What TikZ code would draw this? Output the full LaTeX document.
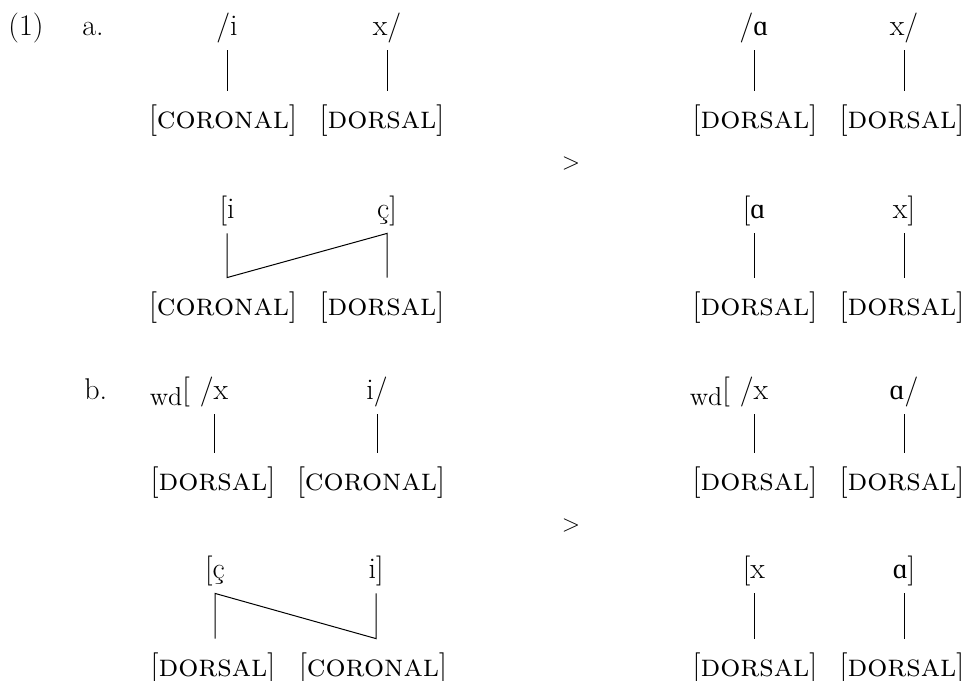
\documentclass[tikz,border=0pt]{standalone}
\usepackage{fontspec}
\newfontfamily\ipa{Liberation Serif}[Scale=0.95]
\newcommand{\wdmark}{\llap{\raisebox{-0.5ex}{\fontsize{13}{15}\selectfont wd}[\,\,}}
\begin{document}
\begin{tikzpicture}[x=0.5pt,y=-0.5pt,
  every node/.style={font=\fontsize{15}{18}\selectfont, inner sep=0pt},
  plain/.style={anchor=base west},
  seg/.style={anchor=base, text depth=7.5pt},
  feat/.style={anchor=base, text height=18.5pt, font=\fontsize{15.8}{18}\selectfont},
  gt/.style={font=\fontsize{12}{14}\selectfont},
  assoc/.style={line width=0.5pt}]
\useasboundingbox (0,0) rectangle (969,680);
% labels
\node[plain] (ex) at (8,35) {(1)};
\node[plain] (la) at (82,35) {a.};
\node[plain] (lb) at (84,399) {b.};
% a, underlying
\node[seg] (a1i) at (227,35) {/i};
\node[seg] (a1x) at (387,35) {x/};
\node[feat] (a1c) at (223,128) {[\textsc{coronal}]};
\node[feat] (a1d) at (382,128) {[\textsc{dorsal}]};
\node[seg] (a2a) at (754,35) {/{\ipa ɑ}};
\node[seg] (a2x) at (904,35) {x/};
\node[feat] (a2d1) at (755,128) {[\textsc{dorsal}]};
\node[feat] (a2d2) at (902,128) {[\textsc{dorsal}]};
\draw[assoc] (a1i.south) -- (a1i.south |- a1c.north);
\draw[assoc] (a1x.south) -- (a1x.south |- a1d.north);
\draw[assoc] (a2a.south) -- (a2a.south |- a2d1.north);
\draw[assoc] (a2x.south) -- (a2x.south |- a2d2.north);
\node[gt] (gA) at (571,163) {$>$};
% a, surface
\node[seg] (b1i) at (227,218) {[i};
\node[seg] (b1c) at (387,218) {ç]};
\node[feat] (b1cor) at (223,315) {[\textsc{coronal}]};
\node[feat] (b1dor) at (382,315) {[\textsc{dorsal}]};
\node[seg] (b2a) at (754,218) {[{\ipa ɑ}};
\node[seg] (b2x) at (904,218) {x]};
\node[feat] (b2d1) at (755,315) {[\textsc{dorsal}]};
\node[feat] (b2d2) at (902,315) {[\textsc{dorsal}]};
\draw[assoc] (b1i.south) -- (b1i.south |- b1cor.north) -- (b1c.south) -- (b1c.south |- b1dor.north);
\draw[assoc] (b2a.south) -- (b2a.south |- b2d1.north);
\draw[assoc] (b2x.south) -- (b2x.south |- b2d2.north);
% b, underlying
\node[seg] (c1x) at (214,399) {\wdmark/x};
\node[seg] (c1i) at (377,399) {i/};
\node[feat] (c1d) at (213,490) {[\textsc{dorsal}]};
\node[feat] (c1c) at (371,490) {[\textsc{coronal}]};
\node[seg] (c2x) at (754,399) {\wdmark/x};
\node[seg] (c2a) at (904,399) {{\ipa ɑ}/};
\node[feat] (c2d1) at (755,490) {[\textsc{dorsal}]};
\node[feat] (c2d2) at (902,490) {[\textsc{dorsal}]};
\draw[assoc] (c1x.south) -- (c1x.south |- c1d.north);
\draw[assoc] (c1i.south) -- (c1i.south |- c1c.north);
\draw[assoc] (c2x.south) -- (c2x.south |- c2d1.north);
\draw[assoc] (c2a.south) -- (c2a.south |- c2d2.north);
\node[gt] (gB) at (571,525) {$>$};
% b, surface
\node[seg] (d1c) at (215,578) {[ç};
\node[seg] (d1i) at (376,578) {i]};
\node[feat] (d1d) at (213,676) {[\textsc{dorsal}]};
\node[feat] (d1cor) at (373,676) {[\textsc{coronal}]};
\node[seg] (d2x) at (754,578) {[x};
\node[seg] (d2a) at (904,578) {{\ipa ɑ}]};
\node[feat] (d2d1) at (755,676) {[\textsc{dorsal}]};
\node[feat] (d2d2) at (902,676) {[\textsc{dorsal}]};
\draw[assoc] (d1c.south |- d1d.north) -- (d1c.south) -- (d1i.south |- d1cor.north) -- (d1i.south);
\draw[assoc] (d2x.south) -- (d2x.south |- d2d1.north);
\draw[assoc] (d2a.south) -- (d2a.south |- d2d2.north);
\end{tikzpicture}
\end{document}
